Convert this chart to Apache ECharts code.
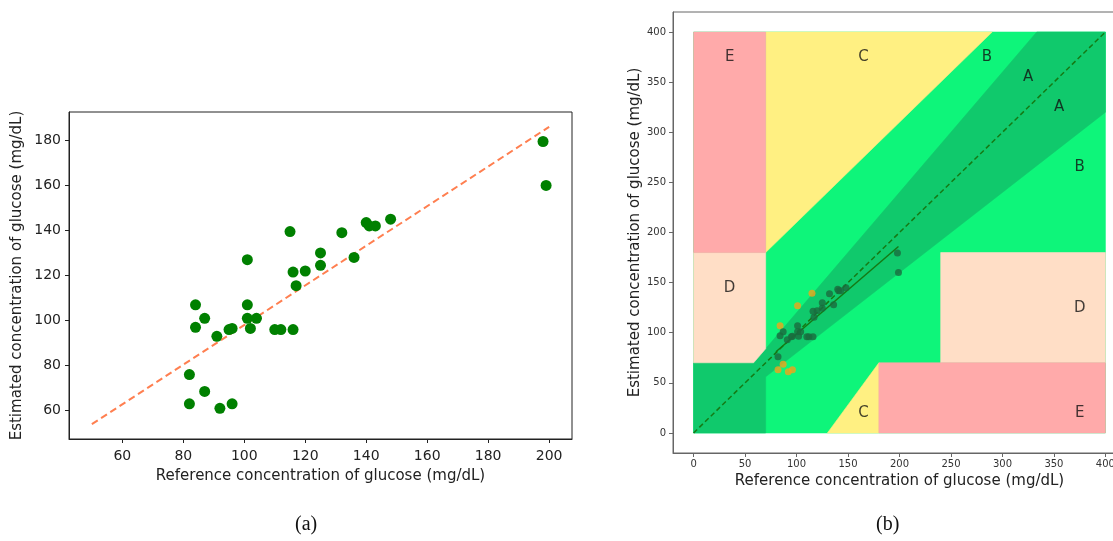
<!DOCTYPE html>
<html lang="en">
<head>
    <meta charset="UTF-8">
    <title>Glucose</title>
    <style>
        html, body, #chart { margin: 0; padding: 0; width: 100%; height: 100%; background: #fff; }
    </style>
</head>
<body>
    <div id="chart"></div>
    <script src="https://cdn.jsdelivr.net/npm/echarts@6/dist/echarts.min.js"></script>
    <script>
        // reference / estimated glucose pairs (mg/dL)
        var refValues = [82, 82, 84, 84, 87, 87, 91, 92, 95, 96, 96, 101, 101, 101, 102, 104, 110, 112, 116,
            115, 116, 117, 120, 125, 125, 132, 136, 140, 141, 143, 148, 198, 199];
        var estValues = [76, 63, 107, 97, 101, 68.5, 93, 61, 96, 96.5, 63, 127, 107, 101, 96.5, 101, 96, 96, 96,
            139.5, 121.5, 115.5, 122, 130, 124.5, 139, 128, 143.5, 142, 142, 145, 179.5, 160];

        // fitted lines
        var fitLineA = [[50, 54], [200, 186]];
        var fitLineB = [[80, 81], [199, 186]];
        var identityLine = [[0, 0], [400, 400]];

        // Clarke error grid zones
        var zoneNames = ['B', 'A', 'C', 'C', 'D', 'D', 'E', 'E'];
        var zoneShapes = [
            [[0, 0], [400, 0], [400, 400], [0, 400]],
            [[0, 0], [70, 0], [70, 56], [400, 320], [400, 400], [333.3, 400], [70, 84], [58.3, 70], [0, 70]],
            [[70, 180], [70, 400], [290, 400]],
            [[130, 0], [180, 0], [180, 70]],
            [[0, 70], [58.3, 70], [70, 84], [70, 180], [0, 180]],
            [[240, 70], [400, 70], [400, 180], [240, 180]],
            [[0, 180], [70, 180], [70, 400], [0, 400]],
            [[180, 0], [400, 0], [400, 70], [180, 70]]
        ];
        var zoneLabels = [['E', 35, 375], ['C', 165, 375], ['B', 285, 375], ['A', 325, 355], ['A', 355, 325],
            ['B', 375, 265], ['D', 35, 145], ['D', 375, 125], ['C', 165, 20], ['E', 375, 20]];

        var leftXTicks = [60, 80, 100, 120, 140, 160, 180, 200];
        var leftYTicks = [60, 80, 100, 120, 140, 160, 180];
        var gridTicks = [0, 50, 100, 150, 200, 250, 300, 350, 400];

        var zoneColors = { A: '#10c96c', B: '#0ef57a', C: '#fff082', D: '#ffdec6', E: '#ffaaaa' };

        function inZoneA(x, y) {
            return (x <= 70 && y <= 70) || (y >= 0.8 * x && y <= 1.2 * x);
        }

        var pairs = refValues.map(function (r, i) { return [r, estValues[i]]; });
        var pairsB = pairs.map(function (p) {
            return {
                value: p,
                itemStyle: { color: inZoneA(p[0], p[1]) ? '#1a6b3e' : '#f2a21a' }
            };
        });

        var font = 'DejaVu Sans';
        var myChart = echarts.init(document.getElementById('chart'));

        myChart.setOption({
            animation: false,
            textStyle: { fontFamily: font },
            grid: [
                { left: 69, top: 112, width: 503, height: 327, show: true, borderColor: '#222', borderWidth: 1,
                  backgroundColor: 'transparent', outerBoundsMode: 'none' },
                { left: 673, top: 12, width: 453, height: 441, show: true, borderColor: '#666', borderWidth: 1,
                  backgroundColor: 'transparent', outerBoundsMode: 'none' }
            ],
            xAxis: [{
                gridIndex: 0, type: 'value', min: 42.5, max: 207.5,
                name: 'Reference concentration of glucose (mg/dL)', nameLocation: 'middle', nameGap: 30,
                nameTextStyle: { fontSize: 15, color: '#222', fontFamily: font },
                axisLine: { onZero: false, lineStyle: { color: '#222' } },
                axisTick: { customValues: leftXTicks, length: 4, lineStyle: { color: '#222' } },
                axisLabel: { customValues: leftXTicks, fontSize: 14, color: '#222', margin: 10, fontFamily: font },
                splitLine: { show: false }
            }, {
                gridIndex: 1, type: 'value', min: -20, max: 420,
                name: 'Reference concentration of glucose (mg/dL)', nameLocation: 'middle', nameGap: 20,
                nameTextStyle: { fontSize: 15, color: '#222', fontFamily: font },
                axisLine: { onZero: false, lineStyle: { color: '#666' } },
                axisTick: { customValues: gridTicks, length: 4, lineStyle: { color: '#666' } },
                axisLabel: { customValues: gridTicks, fontSize: 10, color: '#333', margin: 6, fontFamily: font },
                splitLine: { show: false }
            }],
            yAxis: [{
                gridIndex: 0, type: 'value', min: 47.4, max: 192.6,
                name: 'Estimated concentration of glucose (mg/dL)', nameLocation: 'middle', nameGap: 44,
                nameTextStyle: { fontSize: 15, color: '#222', fontFamily: font },
                axisLine: { onZero: false, lineStyle: { color: '#222' } },
                axisTick: { customValues: leftYTicks, length: 4, lineStyle: { color: '#222' } },
                axisLabel: { customValues: leftYTicks, fontSize: 14, color: '#222', margin: 8, fontFamily: font },
                splitLine: { show: false }
            }, {
                gridIndex: 1, type: 'value', min: -20, max: 420,
                name: 'Estimated concentration of glucose (mg/dL)', nameLocation: 'middle', nameGap: 30,
                nameTextStyle: { fontSize: 15, color: '#222', fontFamily: font },
                axisLine: { onZero: false, lineStyle: { color: '#666' } },
                axisTick: { customValues: gridTicks, length: 4, lineStyle: { color: '#666' } },
                axisLabel: { customValues: gridTicks, fontSize: 10, color: '#333', margin: 7, fontFamily: font },
                splitLine: { show: false }
            }],
            series: [
                {
                    type: 'line', xAxisIndex: 0, yAxisIndex: 0, data: fitLineA, symbol: 'none',
                    lineStyle: { color: '#ff7f50', width: 2, type: [7, 4] }, z: 2
                },
                {
                    type: 'scatter', xAxisIndex: 0, yAxisIndex: 0, data: pairs, symbolSize: 11,
                    itemStyle: { color: '#008000', opacity: 1 }, z: 3
                },
                {
                    type: 'custom', xAxisIndex: 1, yAxisIndex: 1, data: zoneNames, z: 1,
                    renderItem: function (params, api) {
                        var pts = zoneShapes[params.dataIndex].map(function (p) { return api.coord(p); });
                        var c = zoneColors[zoneNames[params.dataIndex]];
                        return {
                            type: 'polygon',
                            shape: { points: pts },
                            style: { fill: c, stroke: c, lineWidth: 0.6 }
                        };
                    }
                },
                {
                    type: 'scatter', xAxisIndex: 1, yAxisIndex: 1, symbolSize: 0, z: 4,
                    data: zoneLabels.map(function (l) { return { value: [l[1], l[2]], name: l[0] }; }),
                    label: { show: true, position: 'inside', formatter: '{b}', fontSize: 15, color: '#111', fontFamily: font }
                },
                {
                    type: 'line', xAxisIndex: 1, yAxisIndex: 1, data: identityLine, symbol: 'none', z: 3,
                    lineStyle: { color: '#157a15', width: 1.5, type: [5, 3] }
                },
                {
                    type: 'line', xAxisIndex: 1, yAxisIndex: 1, data: fitLineB, symbol: 'none', z: 3,
                    lineStyle: { color: '#157a15', width: 1.5 }
                },
                {
                    type: 'scatter', xAxisIndex: 1, yAxisIndex: 1, data: pairsB, symbolSize: 7, z: 4
                }
            ],
            graphic: [
                { type: 'text', left: 295, top: 515, style: { text: '(a)', fontSize: 20, fontFamily: 'Liberation Serif', fill: '#111' } },
                { type: 'text', left: 876, top: 515, style: { text: '(b)', fontSize: 20, fontFamily: 'Liberation Serif', fill: '#111' } }
            ]
        });

        window.addEventListener('resize', function () {
            myChart.resize();
        });
    </script>
</body>
</html>
